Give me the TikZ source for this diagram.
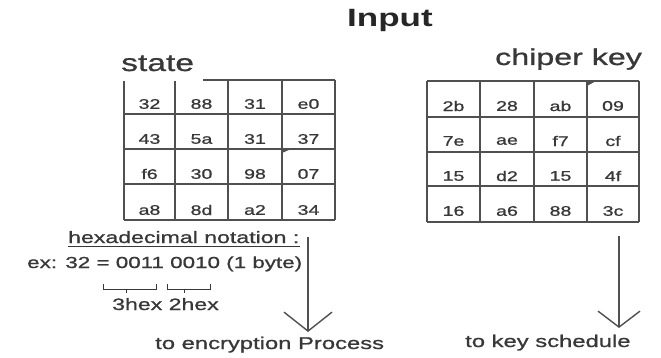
\documentclass[tikz,border=0pt]{standalone}
\usepackage{fontspec}
\setmainfont{Liberation Sans}
\newfontfamily\widefont[FakeStretch=1.4, FakeBold=0.9]{Liberation Sans}
\newfontfamily\titlefont[FakeStretch=1.4]{Liberation Sans}
\usetikzlibrary{arrows.meta}

\definecolor{ink}{HTML}{383838}
\definecolor{rule}{HTML}{505050}

\tikzset{
  cell/.style={inner sep=0pt, text=ink, font=\widefont\fontsize{14}{14}\selectfont},
  label/.style={inner sep=0pt, text=ink, anchor=base west},
  gridline/.style={draw=rule, line width=1.7pt},
  flow/.style={draw=rule, line width=1.4pt},
}

\begin{document}
\begin{tikzpicture}[x=1pt, y=-1pt]
\useasboundingbox[fill=white] (0,0) rectangle (661,358);

% titles
\node[label, text=black!85, font=\titlefont\bfseries\fontsize{25}{25}\selectfont] (title) at (347,27) {Input};
\node[label, font=\widefont\fontsize{24}{24}\selectfont] (statelbl) at (121,71) {state};
\node[label, font=\widefont\fontsize{23}{23}\selectfont] (keylbl) at (495,65) {chiper key};

% state grid (top edge only partly drawn)
\draw[gridline] (203,80) -- (335,80);
\foreach \x in {124,175} \draw[gridline] (\x,81) -- (\x,220);
\foreach \x in {228,282,335} \draw[gridline] (\x,80) -- (\x,220);
\foreach \y in {114,149,184,220} \draw[gridline] (124,\y) -- (335,\y);
\fill[rule] (282,149) -- (291,149) -- (282,153) -- cycle;

% state values
\foreach \x/\v [count=\c] in {149.5/32, 201.5/88, 255/31, 308.5/e0} \node[cell] (s1\c) at (\x,104) {\v};
\foreach \x/\v [count=\c] in {149.5/43, 201.5/5a, 255/31, 308.5/37} \node[cell] (s2\c) at (\x,139) {\v};
\foreach \x/\v [count=\c] in {149.5/f6, 201.5/30, 255/98, 308.5/07} \node[cell] (s3\c) at (\x,174) {\v};
\foreach \x/\v [count=\c] in {149.5/a8, 201.5/8d, 255/a2, 308.5/34} \node[cell] (s4\c) at (\x,210) {\v};

% cipher key grid
\foreach \x in {427,480,534,587,639} \draw[gridline] (\x,81) -- (\x,222);
\foreach \y in {81,117,152,186,222} \draw[gridline] (427,\y) -- (639,\y);
\fill[rule] (587,81) -- (596,81) -- (587,86) -- cycle;

% cipher key values
\foreach \x/\v [count=\c] in {453.5/2b, 507/28, 560.5/ab, 613/09} \node[cell] (k1\c) at (\x,106) {\v};
\foreach \x/\v [count=\c] in {453.5/7e, 507/ae, 560.5/f7, 613/cf} \node[cell] (k2\c) at (\x,141) {\v};
\foreach \x/\v [count=\c] in {453.5/15, 507/d2, 560.5/15, 613/4f} \node[cell] (k3\c) at (\x,176) {\v};
\foreach \x/\v [count=\c] in {453.5/16, 507/a6, 560.5/88, 613/3c} \node[cell] (k4\c) at (\x,211) {\v};

% hexadecimal note
\node[label, font=\widefont\fontsize{16.5}{16.5}\selectfont] (hex) at (68,243) {hexadecimal notation :};
\draw[draw=ink, line width=0.9pt] ([yshift=-3.5pt]hex.base west) -- ([yshift=-3.5pt]hex.base east);
\node[label, font=\widefont\fontsize{16}{16}\selectfont] (ex) at (27,268) {ex: 32 = 0011 0010 (1 byte)};
\draw[draw=ink, line width=1pt] (103,284) -- (103,289) -- (156,289) -- (156,284);
\draw[draw=ink, line width=1pt] (126,289) -- (126,293);
\draw[draw=ink, line width=1pt] (167,284) -- (167,289) -- (210,289) -- (210,284);
\draw[draw=ink, line width=1pt] (184,289) -- (184,293);
\node[label, font=\widefont\fontsize{16.5}{16.5}\selectfont] (hexes) at (112,310) {3hex 2hex};

% outputs
\coordinate (encTop) at (308,237);
\coordinate (encTip) at (308,332);
\coordinate (keyTop) at (619,236);
\coordinate (keyTip) at (619,328);
\draw[flow, -{Straight Barb[length=19pt, width=48pt, line width=1.4pt]}] (encTop) -- (encTip);
\draw[flow, -{Straight Barb[length=16pt, width=42pt, line width=1.4pt]}] (keyTop) -- (keyTip);
\node[label, font=\widefont\fontsize{17}{17}\selectfont] (enc) at (155,349) {to encryption Process};
\node[label, font=\widefont\fontsize{17}{17}\selectfont] (ks) at (465,347) {to key schedule};
\end{tikzpicture}
\end{document}
